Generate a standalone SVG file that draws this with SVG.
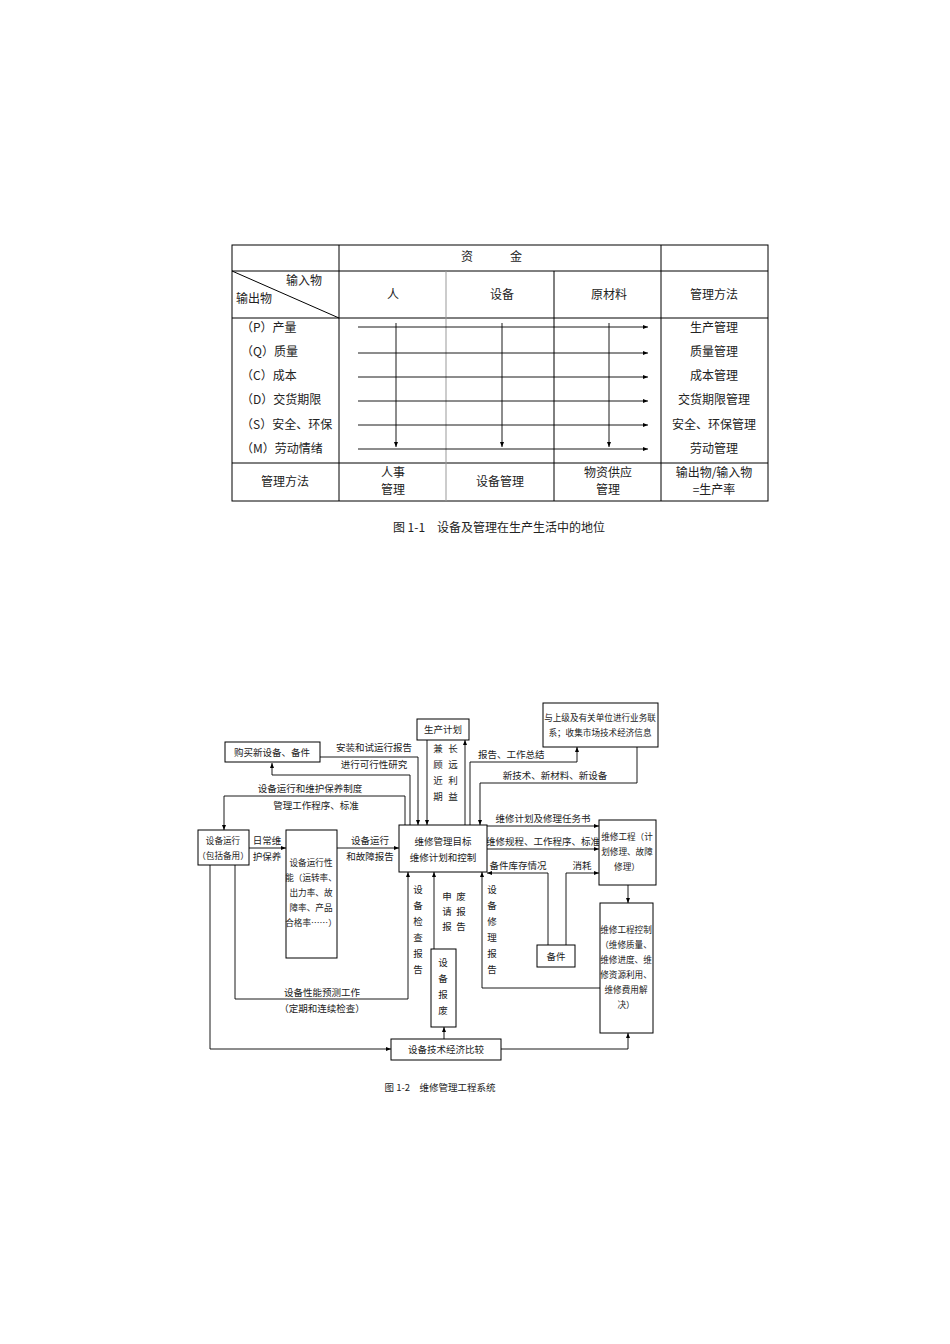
<svg xmlns="http://www.w3.org/2000/svg" width="950" height="1344" viewBox="0 0 950 1344">
<defs>
<marker id="a" viewBox="0 0 10 10" refX="10" refY="5" markerWidth="7" markerHeight="5" orient="auto" markerUnits="userSpaceOnUse"><path d="M0,1 L10,5 L0,9 z" fill="#000"/></marker>
</defs>
<style>
text{font-family:"Noto Sans CJK SC","Liberation Sans",sans-serif;fill:#222}
.t{font-size:12px}
.s{font-size:9.5px}
.n{font-size:8.6px}
.m{text-anchor:middle}
.b{fill:#fff;stroke:#000;stroke-width:1}
.l{fill:none;stroke:#000;stroke-width:0.9}
.g{stroke:#999;stroke-width:1}
.k{stroke:#000;stroke-width:1}
</style>
<rect width="950" height="1344" fill="#fff"/>
<g id="table">
<rect x="232" y="245" width="536" height="256" class="b"/>
<line x1="232" y1="271" x2="768" y2="271" class="k"/>
<line x1="232" y1="318" x2="768" y2="318" class="k"/>
<line x1="232" y1="463" x2="768" y2="463" class="k"/>
<line x1="339" y1="245" x2="339" y2="501" class="k"/>
<line x1="661" y1="245" x2="661" y2="501" class="k"/>
<line x1="446" y1="271" x2="446" y2="501" class="g"/>
<line x1="554" y1="271" x2="554" y2="501" class="k"/>
<line x1="232" y1="271" x2="339" y2="318" class="k"/>
<text x="467" y="261" class="t m">资</text><text x="516" y="261" class="t m">金</text>
<text x="304" y="285" class="t m">输入物</text>
<text x="254" y="303" class="t m">输出物</text>
<text x="393" y="299" class="t m">人</text>
<text x="502" y="299" class="t m">设备</text>
<text x="609" y="299" class="t m">原材料</text>
<text x="714" y="299" class="t m">管理方法</text>
<g class="t">
<text x="241" y="332">（P）产量</text>
<text x="241" y="356">（Q）质量</text>
<text x="241" y="380">（C）成本</text>
<text x="241" y="404">（D）交货期限</text>
<text x="241" y="429">（S）安全、环保</text>
<text x="241" y="453">（M）劳动情绪</text>
</g>
<g class="t m">
<text x="714" y="332">生产管理</text>
<text x="714" y="356">质量管理</text>
<text x="714" y="380">成本管理</text>
<text x="714" y="404">交货期限管理</text>
<text x="714" y="429">安全、环保管理</text>
<text x="714" y="453">劳动管理</text>
<text x="285" y="486">管理方法</text>
<text x="393" y="477">人事</text><text x="393" y="494">管理</text>
<text x="500" y="486">设备管理</text>
<text x="608" y="477">物资供应</text><text x="608" y="494">管理</text>
<text x="714" y="477">输出物/输入物</text><text x="714" y="494">=生产率</text>
</g>
<g class="l" marker-end="url(#a)">
<line x1="358" y1="327" x2="648" y2="327"/>
<line x1="358" y1="353" x2="648" y2="353"/>
<line x1="358" y1="377" x2="648" y2="377"/>
<line x1="358" y1="401" x2="648" y2="401"/>
<line x1="358" y1="425" x2="648" y2="425"/>
<line x1="358" y1="449" x2="648" y2="449"/>
<line x1="396" y1="323" x2="396" y2="447"/>
<line x1="502" y1="323" x2="502" y2="447"/>
<line x1="609" y1="323" x2="609" y2="447"/>
</g>
<text x="499" y="532" class="t m">图 1-1　设备及管理在生产生活中的地位</text>
</g>

<g id="connectors" class="l">
<g marker-end="url(#a)">
<path d="M320,757 H418 V825"/>
<path d="M410,825 V775 H272 V763"/>
<path d="M405,825 V796 H224 V830"/>
<path d="M427,740 V825"/>
<path d="M465,825 V740"/>
<path d="M470,825 V762 H577 V747"/>
<path d="M637,747 V783 H480 V825"/>
<path d="M487,826 H599"/>
<path d="M487,849 H599"/>
<path d="M548,945 V873 H487"/>
<path d="M566,945 V873 H599"/>
<path d="M249,848 H286"/>
<path d="M337,848 H399"/>
<path d="M210,865 V1049 H391"/>
<path d="M235,865 V999 H408 V872"/>
<path d="M434,949 V872"/>
<path d="M444,1039 V1027"/>
<path d="M600,988 H482 V872"/>
<path d="M628,885 V903"/>
<path d="M501,1049 H628 V1033"/>
</g>
</g>
<g class="s">
<text x="374" y="751" class="m">安装和试运行报告</text>
<text x="374" y="768" class="m">进行可行性研究</text>
<text x="310" y="792" class="m">设备运行和维护保养制度</text>
<text x="316" y="809" class="m">管理工作程序、标准</text>
<text x="478" y="758">报告、工作总结</text>
<text x="555" y="779" class="m">新技术、新材料、新设备</text>
<text x="543" y="822" class="m">维修计划及修理任务书</text>
<text x="543" y="845" class="m">维修规程、工作程序、标准</text>
<text x="518" y="869" class="m">备件库存情况</text>
<text x="582" y="869" class="m">消耗</text>
<text x="267" y="844" class="m">日常维</text>
<text x="267" y="860" class="m">护保养</text>
<text x="370" y="844" class="m">设备运行</text>
<text x="370" y="860" class="m">和故障报告</text>
<text x="322" y="996" class="m">设备性能预测工作</text>
<text x="322" y="1012" class="m">（定期和连续检查）</text>
<g class="m">
<text x="438" y="752">兼</text><text x="438" y="768">顾</text><text x="438" y="784">近</text><text x="438" y="800">期</text>
<text x="453" y="752">长</text><text x="453" y="768">远</text><text x="453" y="784">利</text><text x="453" y="800">益</text>
<text x="418" y="893">设</text><text x="418" y="909">备</text><text x="418" y="925">检</text><text x="418" y="941">查</text><text x="418" y="957">报</text><text x="418" y="973">告</text>
<text x="447" y="900">申</text><text x="447" y="915">请</text><text x="447" y="930">报</text>
<text x="461" y="900">废</text><text x="461" y="915">报</text><text x="461" y="930">告</text>
<text x="492" y="893">设</text><text x="492" y="909">备</text><text x="492" y="925">修</text><text x="492" y="941">理</text><text x="492" y="957">报</text><text x="492" y="973">告</text>
</g>
</g>
<g id="n-buy"><rect x="225" y="742" width="95" height="20" class="b"/><text x="272" y="756" class="s m">购买新设备、备件</text></g>
<g id="n-plan"><rect x="417" y="719" width="52" height="21" class="b"/><text x="443" y="733" class="s m">生产计划</text></g>
<g id="n-upper"><rect x="543" y="703" width="115" height="44" class="b"/><text x="600" y="721" class="n m">与上级及有关单位进行业务联</text><text x="600" y="736" class="n m">系；收集市场技术经济信息</text></g>
<g id="n-run"><rect x="198" y="830" width="51" height="35" class="b"/><text x="223" y="844" class="n m">设备运行</text><text x="223" y="859" class="n m">（包括备用）</text></g>
<g id="n-perf"><rect x="286" y="830" width="51" height="128" class="b"/>
<g class="n m"><text x="311" y="866">设备运行性</text><text x="311" y="881">能（运转率、</text><text x="311" y="896">出力率、故</text><text x="311" y="911">障率、产品</text><text x="311" y="926">合格率……）</text></g></g>
<g id="n-main"><rect x="399" y="825" width="88" height="47" class="b"/><text x="443" y="845" class="s m">维修管理目标</text><text x="443" y="861" class="s m">维修计划和控制</text></g>
<g id="n-eng"><rect x="599" y="820" width="57" height="65" class="b"/><g class="n m"><text x="627" y="840">维修工程（计</text><text x="627" y="855">划修理、故障</text><text x="627" y="870">修理）</text></g></g>
<g id="n-ctrl"><rect x="600" y="903" width="53" height="130" class="b"/><g class="n m"><text x="626" y="933">维修工程控制</text><text x="626" y="948">（维修质量、</text><text x="626" y="963">维修进度、维</text><text x="626" y="978">修资源利用、</text><text x="626" y="993">维修费用解</text><text x="626" y="1008">决）</text></g></g>
<g id="n-spare"><rect x="537" y="945" width="38" height="22" class="b"/><text x="556" y="960" class="s m">备件</text></g>
<g id="n-scrap"><rect x="431" y="949" width="25" height="78" class="b"/><g class="s m"><text x="443" y="966">设</text><text x="443" y="982">备</text><text x="443" y="998">报</text><text x="443" y="1014">废</text></g></g>
<g id="n-cmp"><rect x="391" y="1039" width="110" height="21" class="b"/><text x="446" y="1053" class="s m">设备技术经济比较</text></g>
<text x="440" y="1091" class="s m">图 1-2　维修管理工程系统</text>
</svg>
